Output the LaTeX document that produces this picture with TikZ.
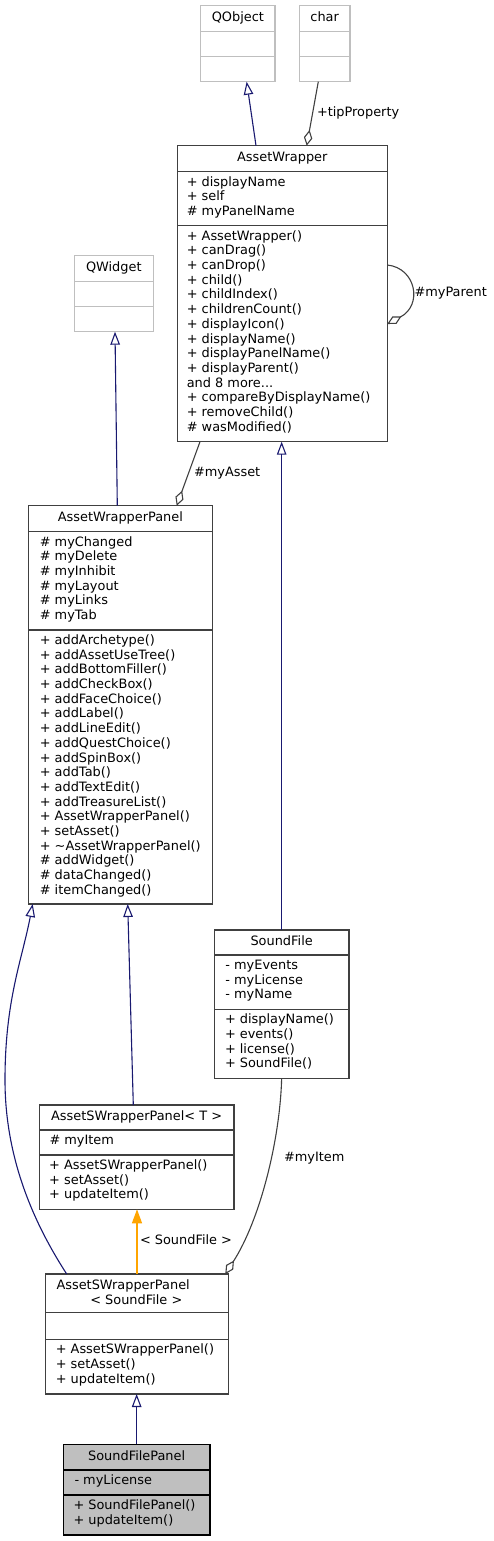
\documentclass[tikz,border=0pt]{standalone}
\usepackage{fontspec}
\setmainfont{DejaVu Sans}
\usetikzlibrary{arrows.meta,fit,calc}
\definecolor{inhblue}{HTML}{191970}
\definecolor{aggray}{HTML}{404040}
\definecolor{extgray}{HTML}{BFBFBF}
\definecolor{tplorange}{HTML}{FFA500}
\definecolor{rootfill}{HTML}{BFBFBF}
\newcommand\mytdots{...}
\newcommand\umlbox[6]{\node[#6, fit={(#2,#3) (#4,#5)}] (#1) {};}
\newcommand\hsep[4]{\draw[seprule, #1] (#2,#4) -- (#3,#4);}
\newcommand\mlines[5]{\foreach \tx [count=\i from 0] in {#5} {\node[txt, anchor=base west] (#1\i) at (#2,{#3+\i*#4}) {\tx};}}
\begin{document}
\begin{tikzpicture}[x=1pt,y=-1pt,
  box/.style={draw=aggray, line width=1.1pt, fill=white, inner sep=0pt, outer sep=0pt},
  extbox/.style={draw=extgray, line width=1.1pt, fill=white, inner sep=0pt, outer sep=0pt},
  rootbox/.style={draw=black, line width=1.1pt, fill=rootfill, inner sep=0pt, outer sep=0pt},
  seprule/.style={line width=1.1pt},
  txt/.style={inner sep=0pt, outer sep=0pt, font=\fontsize{12.9}{14}\selectfont, text=black},
  inh/.style={draw=inhblue, line width=1.1pt, -{Triangle[open, length=13pt, width=9.5pt, line join=miter]}},
  agg/.style={draw=aggray, line width=1.1pt, -{Diamond[open, length=16pt, width=8.5pt, line join=miter]}},
  tpl/.style={draw=tplorange, line width=1.2pt, -{Triangle[length=14pt, width=10pt, fill=tplorange, line join=miter]}},
]
\path[use as bounding box, fill=white] (0,0) rectangle (494,1541);

% QObject
\umlbox{qobj}{200.7}{5.7}{275}{81.7}{extbox}
\hsep{extgray}{200.7}{275}{31.7}
\hsep{extgray}{200.7}{275}{56.7}
\node[txt, anchor=base] (qobj-t) at (237.85,21.5) {QObject};

% char
\umlbox{char}{299.3}{5.7}{350}{81.7}{extbox}
\hsep{extgray}{299.3}{350}{31.7}
\hsep{extgray}{299.3}{350}{56.7}
\node[txt, anchor=base] (char-t) at (324.65,21.5) {char};

% AssetWrapper
\umlbox{aw}{177.3}{145.7}{387.3}{441.7}{box}
\hsep{aggray}{177.3}{387.3}{171.7}
\hsep{aggray}{177.3}{387.3}{225.7}
\node[txt, anchor=base] (aw-t) at (282.3,161.5) {AssetWrapper};
\mlines{awa}{186.8}{186.1}{14.7}{+ displayName, + self, \# myPanelName}
\mlines{awm}{186.8}{240.1}{14.7}{+ AssetWrapper(), + canDrag(), + canDrop(), + child(), + childIndex(), + childrenCount(), + displayIcon(), + displayName(), + displayPanelName(), + displayParent(), {and 8 more\mytdots}, + compareByDisplayName(), + removeChild(), \# wasModified()}

% QWidget
\umlbox{qw}{74.3}{255.7}{153.3}{331.7}{extbox}
\hsep{extgray}{74.3}{153.3}{281.7}
\hsep{extgray}{74.3}{153.3}{306.7}
\node[txt, anchor=base] (qw-t) at (113.8,271.5) {QWidget};

% AssetWrapperPanel
\umlbox{awp}{28.3}{505.7}{212.5}{904}{box}
\hsep{aggray}{28.3}{212.5}{531.7}
\hsep{aggray}{28.3}{212.5}{630}
\node[txt, anchor=base] (awp-t) at (120.4,521.5) {AssetWrapperPanel};
\mlines{awpa}{39.8}{546.1}{14.7}{\# myChanged, \# myDelete, \# myInhibit, \# myLayout, \# myLinks, \# myTab}
\mlines{awpm}{39.8}{644.4}{14.7}{+ addArchetype(), + addAssetUseTree(), + addBottomFiller(), + addCheckBox(), + addFaceChoice(), + addLabel(), + addLineEdit(), + addQuestChoice(), + addSpinBox(), + addTab(), + addTextEdit(), + addTreasureList(), + AssetWrapperPanel(), + setAsset(), + \textasciitilde AssetWrapperPanel(), \# addWidget(), \# dataChanged(), \# itemChanged()}

% SoundFile
\umlbox{sf}{214.3}{930}{349}{1078.3}{box}
\hsep{aggray}{214.3}{349}{955}
\hsep{aggray}{214.3}{349}{1009.3}
\node[txt, anchor=base] (sf-t) at (281.65,945.8) {SoundFile};
\mlines{sfa}{225.4}{969.4}{14.7}{- myEvents, - myLicense, - myName}
\mlines{sfm}{225}{1023.7}{14.7}{+ displayName(), + events(), + license(), + SoundFile()}

% AssetSWrapperPanel< T >
\umlbox{aswt}{39.3}{1105}{234}{1209.3}{box}
\hsep{aggray}{39.3}{234}{1130}
\hsep{aggray}{39.3}{234}{1155}
\node[txt, anchor=base] (aswt-t) at (136.65,1120.8) {AssetSWrapperPanel< T >};
\mlines{aswta}{49.5}{1144.4}{14.7}{\# myItem}
\mlines{aswtm}{49.2}{1169.4}{14.7}{+ AssetSWrapperPanel(), + setAsset(), + updateItem()}

% AssetSWrapperPanel< SoundFile >
\umlbox{asws}{45.7}{1274}{228.3}{1394}{box}
\hsep{aggray}{45.7}{228.3}{1312.7}
\hsep{aggray}{45.7}{228.3}{1339.3}
\node[txt, anchor=base west] (asws-t1) at (56.5,1289.5) {AssetSWrapperPanel};
\node[txt, anchor=base] (asws-t2) at (136.3,1304.2) {< SoundFile >};
\mlines{aswsm}{55.8}{1353.7}{14.7}{+ AssetSWrapperPanel(), + setAsset(), + updateItem()}

% SoundFilePanel
\umlbox{sfp}{63.3}{1444.3}{210}{1535}{rootbox}
\hsep{black}{63.3}{210}{1470}
\hsep{black}{63.3}{210}{1495}
\node[txt, anchor=base] (sfp-t) at (136.65,1460.1) {SoundFilePanel};
\mlines{sfpa}{74.5}{1484.4}{14.7}{- myLicense}
\mlines{sfpm}{73.5}{1509.4}{14.7}{+ SoundFilePanel(), + updateItem()}

% connectors
\draw[inh] ($(aw.north west)+(78.7,0)$) -- ($(qobj.south)+(8.8,0)$);
\draw[agg] ($(char.south)+(-6.35,0)$) -- ($(aw.north west)+(129.4,0)$);
\node[txt, anchor=base west] (l-tip) at (317,116.5) {+tipProperty};

\draw[agg] ($(aw.north east)+(0,119.3)$) .. controls (416,268) and (423,305) .. ($(aw.north east)+(0,178.3)$);
\node[txt, anchor=base west] (l-par) at (414.5,296.5) {\#myParent};

\draw[inh] ($(awp.north west)+(89,0)$) -- ($(qw.south)+(1.2,0)$);
\draw[agg] ($(aw.south west)+(22.7,0)$) -- ($(awp.north west)+(148.4,0)$);
\node[txt, anchor=base west] (l-asset) at (194,476) {\#myAsset};

\draw[inh] (sf.north) -- (sf.north |- aw.south);

\draw[inh] ($(aswt.north west)+(94,0)$) -- ($(awp.south west)+(99.4,0)$);
\coordinate (bend1) at (5,1080);
\draw[inh] ($(asws.north west)+(21,0)$) .. controls (35,1225) and (5,1160) .. (bend1) .. controls (5,1000) and (22,960) .. ($(awp.south west)+(4.4,0)$);

\draw[tpl] (asws.north) -- (asws.north |- aswt.south);
\node[txt, anchor=base west] (l-tpl) at (140,1244.5) {< SoundFile >};

\draw[agg] (sf.south) .. controls (280,1140) and (260,1220) .. ($(asws.north east)+(-3,0)$);
\node[txt, anchor=base west] (l-item) at (284,1161) {\#myItem};

\draw[inh] (sfp.north) -- (sfp.north |- asws.south);
\end{tikzpicture}
\end{document}
